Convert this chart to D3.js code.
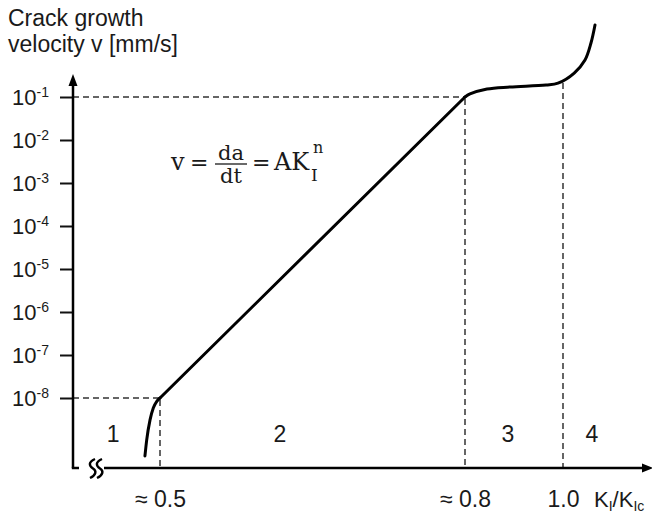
<!DOCTYPE html>
<html><head><meta charset="utf-8">
<script src="https://cdn.jsdelivr.net/npm/d3@7"></script>
<style>body{margin:0;background:#fff}svg{display:block}</style>
</head><body><svg id="c" width="652" height="514"></svg>
<script>
// ---- data ----
const yTickExps = [-1, -2, -3, -4, -5, -6, -7, -8];
const xTickValues = [0.5, 0.8, 1.0];
const xTickLabels = ["\u2248 0.5", "\u2248 0.8", "1.0"];
// stage 1 (threshold region)
const stage1K = [0.4852, 0.4869, 0.4902, 0.4934, 0.4970, 0.5];
const stage1V = [4.5e-10, 1.05e-9, 3.1e-9, 5.85e-9, 8.5e-9, 1e-8];
// stage 2 (power law)
const stage2K = [0.5, 0.8];
const stage2V = [1e-8, 1e-1];
// stages 3 and 4 (plateau and fast fracture)
const stage34K = [0.8, 0.8102, 0.8449, 0.8918, 0.9653, 0.9898, 1.0229, 1.0449, 1.0571, 1.0653];
const stage34V = [0.1, 0.1175, 0.1535, 0.171, 0.19, 0.21, 0.361, 0.724, 1.80, 4.72];
// dashed guides
const guideK = [0.5, 0.8, 1.0];
const guideV = [1e-8, 1e-1, 0.235];
const guideHorizontal = [true, true, false];
// region labels
const regionLabels = ["1", "2", "3", "4"];
const regionK = [0.4538, 0.618, 0.8878, 1.059];

// ---- drawing ----
const svg = d3.select("#c");
const sans = "'Liberation Sans', Arial, sans-serif";
const serif = "'DejaVu Serif', serif";
const x = d3.scaleLinear().domain(xTickValues).range([160, 465, 563]);
const y = d3.scaleLog().domain([1e-8, 1e-1]).range([398, 97]);
const x0 = 73, y0 = 468;
const ink = "#1a1a1a";

// axis title
const yt = svg.append("text").attr("font-family", sans).attr("font-size", 23).attr("fill", ink);
yt.append("tspan").attr("x", 8).attr("y", 26).text("Crack growth");
yt.append("tspan").attr("x", 8).attr("y", 52).text("velocity v [mm/s]");

// guides
guideK.forEach((k, i) => {
  const gx = x(k), gy = y(guideV[i]);
  svg.append("line").attr("x1", gx).attr("x2", gx).attr("y1", gy + 2).attr("y2", y0)
    .attr("stroke", "#333").attr("stroke-width", 1.5).attr("stroke-dasharray", "6,4");
  if (guideHorizontal[i]) {
    svg.append("line").attr("x1", x0).attr("x2", gx).attr("y1", gy).attr("y2", gy)
      .attr("stroke", "#333").attr("stroke-width", 1.5).attr("stroke-dasharray", "6,4");
  }
});

// y axis ticks
const yTickVals = yTickExps.map(e => Math.pow(10, e));
const ya = svg.append("g").attr("transform", `translate(${x0},0)`)
  .call(d3.axisLeft(y).tickValues(yTickVals).tickSize(13).tickFormat(() => ""));
ya.select(".domain").remove();
ya.selectAll(".tick line").attr("stroke", "#111").attr("stroke-width", 2);
yTickExps.forEach(e => {
  const t = svg.append("text").attr("x", 49).attr("y", y(Math.pow(10, e)) + 8)
    .attr("text-anchor", "end").attr("font-family", sans).attr("font-size", 22).attr("fill", ink);
  t.append("tspan").text("10");
  t.append("tspan").attr("font-size", 14).attr("dy", -8).text("-" + Math.abs(e));
});

// axis lines
svg.append("path").attr("d", `M${x0},${y0}V80`).attr("stroke", "#000").attr("stroke-width", 2.5).attr("fill", "none");
svg.append("path").attr("d", `M${x0 - 4.5},86L${x0},74L${x0 + 4.5},86Z`).attr("fill", "#000");
svg.append("path").attr("d", `M${x0 - 1.2},${y0}H79`).attr("stroke", "#000").attr("stroke-width", 2.5).attr("fill", "none");
svg.append("path").attr("d", `M104,${y0}H644`).attr("stroke", "#000").attr("stroke-width", 2.5).attr("fill", "none");
svg.append("path").attr("d", `M642,${y0 - 4.5}L653,${y0}L642,${y0 + 4.5}Z`).attr("fill", "#000");
// axis break
[90, 97].forEach(bx => {
  svg.append("path").attr("d", `M${bx + 5},459 C${bx - 2},462 ${bx - 1},466 ${bx + 3},468.5 C${bx + 7},471 ${bx + 6},475 ${bx},478`)
    .attr("stroke", "#000").attr("stroke-width", 2.4).attr("fill", "none");
});

// x tick labels
const xa = svg.append("g").attr("transform", `translate(0,${y0})`)
  .call(d3.axisBottom(x).tickValues(xTickValues).tickSize(0).tickPadding(23)
    .tickFormat((d, i) => xTickLabels[i]));
xa.select(".domain").remove();
xa.selectAll("text").attr("font-family", sans).attr("font-size", 23).attr("fill", ink);

// x axis title
const xt = svg.append("text").attr("x", 594).attr("y", 507).attr("font-family", sans)
  .attr("font-size", 22).attr("fill", ink);
xt.append("tspan").text("K");
xt.append("tspan").attr("font-size", 14).attr("dy", 4).text("I");
xt.append("tspan").attr("dy", -4).text("/K");
xt.append("tspan").attr("font-size", 14).attr("dy", 4).text("Ic");

// region labels
regionLabels.forEach((l, i) => {
  svg.append("text").attr("x", x(regionK[i])).attr("y", 442).attr("text-anchor", "middle")
    .attr("font-family", sans).attr("font-size", 23).attr("fill", ink).text(l);
});

// curve
const line = d3.line().x(d => x(d[0])).y(d => y(d[1]));
const curveStyle = p => p.attr("fill", "none").attr("stroke", "#000").attr("stroke-width", 3)
  .attr("stroke-linecap", "round").attr("stroke-linejoin", "round");
svg.append("path").attr("d", line.curve(d3.curveMonotoneX)(stage1K.map((k, i) => [k, stage1V[i]]))).call(curveStyle);
svg.append("path").attr("d", line.curve(d3.curveLinear)(stage2K.map((k, i) => [k, stage2V[i]]))).call(curveStyle);
svg.append("path").attr("d", line.curve(d3.curveCatmullRom.alpha(0.5))(stage34K.map((k, i) => [k, stage34V[i]]))).call(curveStyle);

// formula
const f = svg.append("g").attr("fill", ink).attr("font-family", serif);
f.append("text").attr("x", 171).attr("y", 170).attr("font-size", 24).text("v");
f.append("text").attr("x", 190).attr("y", 170).attr("font-size", 22).text("=");
f.append("text").attr("x", 231).attr("y", 160).attr("text-anchor", "middle").attr("font-size", 21).text("da");
f.append("line").attr("x1", 215).attr("x2", 247).attr("y1", 164).attr("y2", 164).attr("stroke", ink).attr("stroke-width", 1.3);
f.append("text").attr("x", 231).attr("y", 183).attr("text-anchor", "middle").attr("font-size", 21).text("dt");
f.append("text").attr("x", 252).attr("y", 170).attr("font-size", 22).text("=");
f.append("text").attr("x", 274).attr("y", 170).attr("font-size", 24).text("AK");
f.append("text").attr("x", 311).attr("y", 181).attr("font-size", 17).text("I");
f.append("text").attr("x", 313).attr("y", 153).attr("font-size", 16).text("n");
</script></body></html>
